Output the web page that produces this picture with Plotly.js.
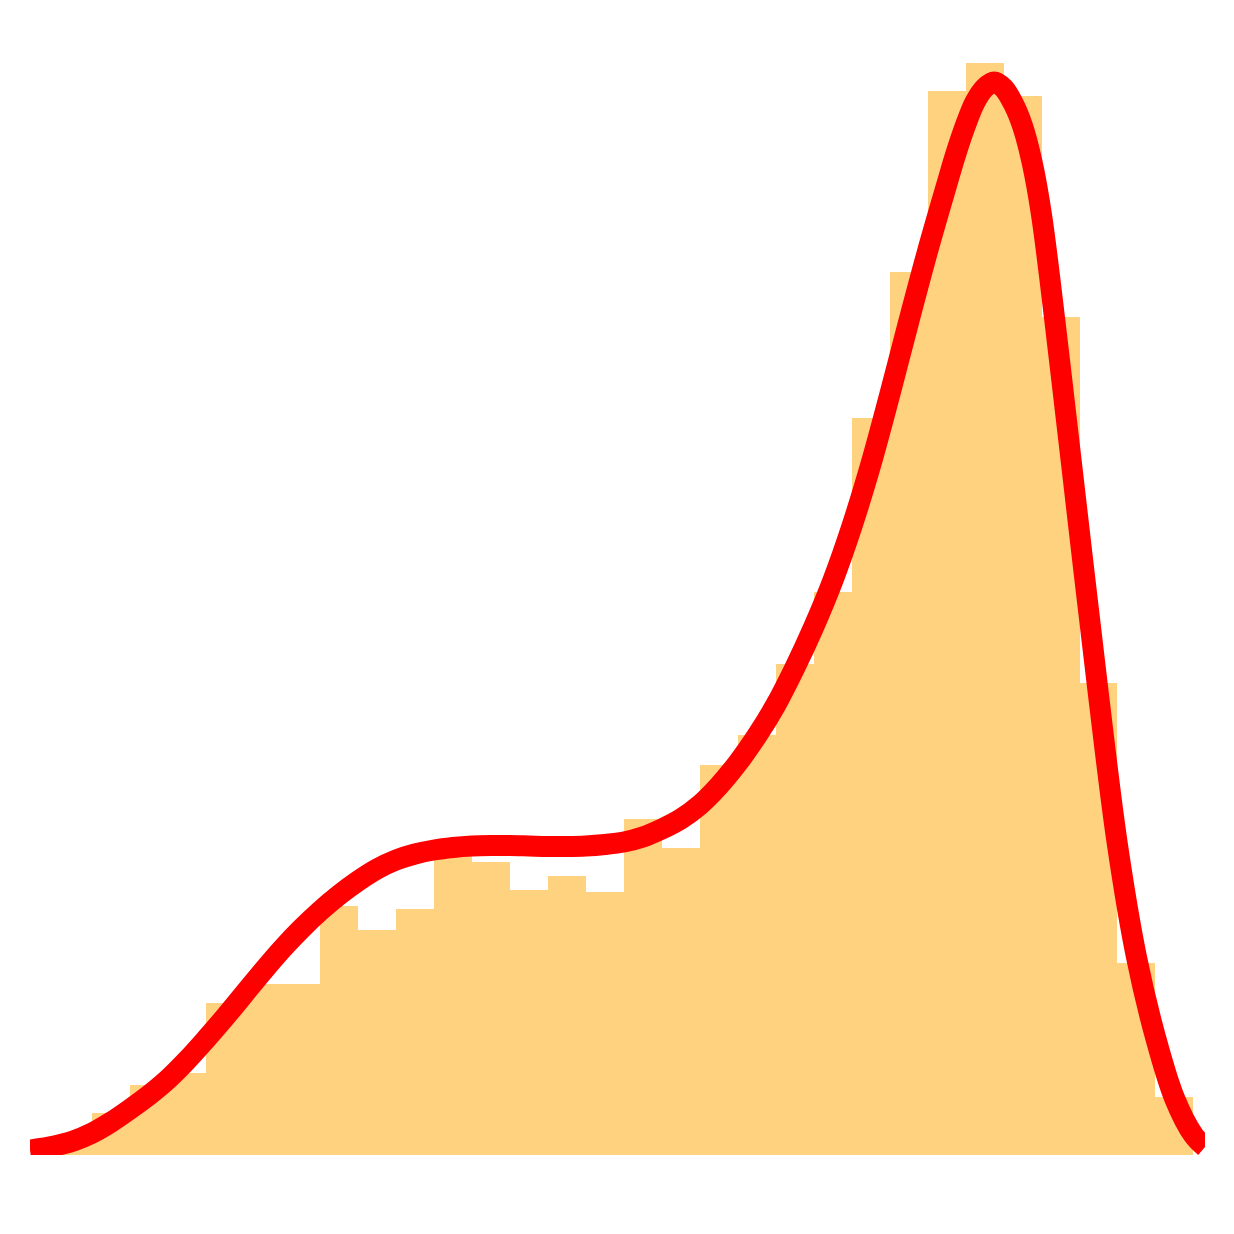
<!DOCTYPE html>
<html>
<head>
<meta charset="utf-8">
<script src="https://cdn.plot.ly/plotly-3.0.1.min.js"></script>
<style>html,body{margin:0;padding:0;background:#fff;}#chart{width:1234px;height:1234px;}</style>
</head>
<body>
<div id="chart"></div>
<script>
// Histogram: 30 bins of width 1 starting at 0 (arbitrary units)
const binStart = 0;
const binSize = 1;
const binCounts = [1.2, 4.2, 7.0, 8.2, 15.2, 17.1, 17.1, 24.9, 22.5, 24.6,
                   29.9, 29.3, 26.5, 27.9, 26.3, 33.6, 30.7, 39.0, 42.0, 49.1,
                   56.3, 73.7, 88.3, 106.4, 109.2, 105.9, 83.8, 47.2, 19.2, 5.8];

// Density curve (same units)
const kdeX = [-0.640, 0.0, 0.5, 1.0, 1.5, 2.0, 2.5, 3.0, 3.5, 4.0,
              4.5, 5.0, 5.5, 6.0, 6.5, 7.0, 7.5, 8.0, 8.5, 9.0,
              9.5, 10.0, 10.5, 11.0, 11.5, 12.0, 12.5, 13.0, 13.5, 14.0,
              14.5, 15.0, 15.5, 16.0, 16.5, 17.0, 17.5, 18.0, 18.5, 19.0,
              19.5, 20.0, 20.5, 21.0, 21.5, 22.0, 22.5, 23.0, 23.5, 23.75,
              24.0, 24.25, 24.5, 24.75, 25.0, 25.25, 25.5, 25.75, 26.0, 26.5,
              27.0, 27.5, 28.0, 28.5, 29.0, 29.5, 30.0, 30.305];
const kdeY = [0.5, 0.9, 1.4, 2.2, 3.3, 4.6, 6.0, 7.6, 9.5, 11.6,
              13.8, 16.1, 18.4, 20.6, 22.6, 24.4, 26.0, 27.4, 28.6, 29.5,
              30.1, 30.5, 30.75, 30.9, 30.95, 30.95, 30.9, 30.85, 30.85, 30.9,
              31.05, 31.3, 31.8, 32.6, 33.6, 35.0, 36.9, 39.2, 41.9, 45.0,
              48.7, 52.8, 57.4, 62.8, 69.0, 76.0, 83.3, 90.4, 97.0, 100.2,
              103.0, 105.3, 106.7, 107.3, 106.7, 105.2, 102.9, 99.3, 94.0, 78.6,
              62.2, 46.0, 31.0, 19.8, 11.8, 5.7, 2.0, 0.8];

const binCenters = binCounts.map((_, i) => binStart + binSize * (i + 0.5));

const traces = [
  {
    type: 'bar',
    x: binCenters,
    y: binCounts,
    width: binSize,
    marker: {color: 'rgba(255,165,0,0.5)', line: {width: 0}},
    hoverinfo: 'skip'
  },
  {
    type: 'scatter',
    mode: 'lines',
    x: kdeX,
    y: kdeY,
    line: {color: '#ff0000', width: 21, shape: 'spline', smoothing: 1},
    hoverinfo: 'skip'
  }
];

const layout = {
  width: 1234,
  height: 1234,
  margin: {l: 30, r: 29, t: 0, b: 79, pad: 0},
  paper_bgcolor: '#ffffff',
  plot_bgcolor: '#ffffff',
  showlegend: false,
  bargap: 0,
  xaxis: {range: [-0.640, 30.305], visible: false, showgrid: false, zeroline: false},
  yaxis: {range: [0, 115.5], visible: false, showgrid: false, zeroline: false}
};

Plotly.newPlot('chart', traces, layout, {displayModeBar: false, staticPlot: true});
</script>
</body>
</html>
